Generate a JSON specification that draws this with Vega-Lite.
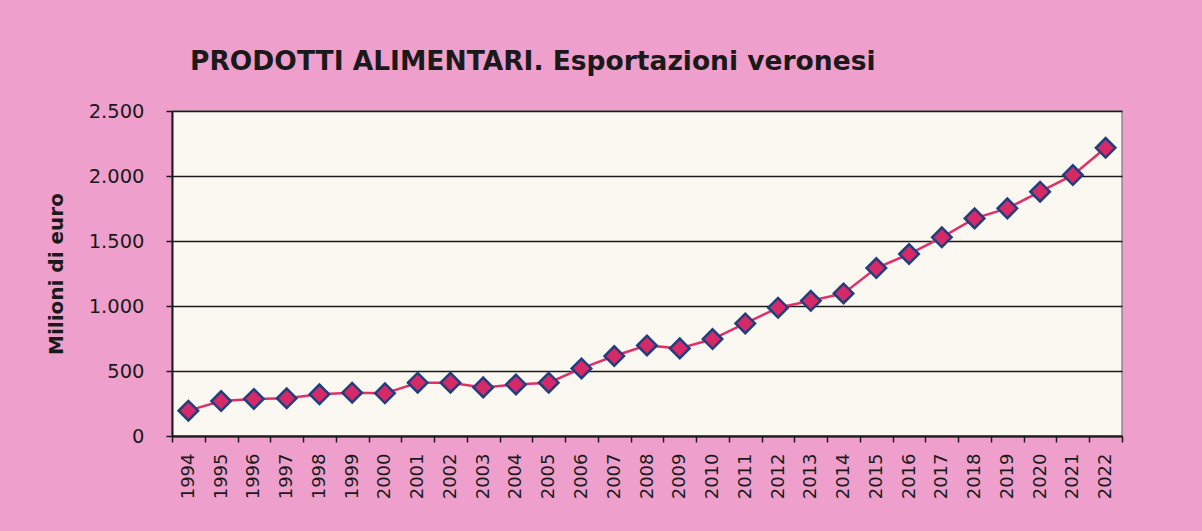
{
  "$schema": "https://vega.github.io/schema/vega-lite/v6.json",
  "width": 950,
  "height": 325,
  "autosize": {"type": "none"},
  "padding": {"left": 172, "top": 111, "right": 80, "bottom": 95},
  "background": "#ee9fcb",
  "config": {
    "locale": {"number": {"decimal": ",", "thousands": ".", "grouping": [3], "currency": ["€", ""]}},
    "view": {"fill": "#fbf8f1", "stroke": "#8c8c8c", "strokeWidth": 1.5},
    "font": "DejaVu Sans"
  },
  "title": {
    "text": "PRODOTTI ALIMENTARI. Esportazioni veronesi",
    "anchor": "start",
    "frame": "group",
    "dx": 18,
    "offset": 26,
    "font": "DejaVu Sans",
    "fontSize": 26.5,
    "fontWeight": "bold",
    "color": "#1a1a1a"
  },
  "data": {
    "values": [
      {"anno": "1994", "valore": 195},
      {"anno": "1995", "valore": 269},
      {"anno": "1996", "valore": 285},
      {"anno": "1997", "valore": 290},
      {"anno": "1998", "valore": 321},
      {"anno": "1999", "valore": 333},
      {"anno": "2000", "valore": 328},
      {"anno": "2001", "valore": 410},
      {"anno": "2002", "valore": 410},
      {"anno": "2003", "valore": 374},
      {"anno": "2004", "valore": 397},
      {"anno": "2005", "valore": 410},
      {"anno": "2006", "valore": 520},
      {"anno": "2007", "valore": 615},
      {"anno": "2008", "valore": 697},
      {"anno": "2009", "valore": 674},
      {"anno": "2010", "valore": 746},
      {"anno": "2011", "valore": 866},
      {"anno": "2012", "valore": 987},
      {"anno": "2013", "valore": 1040},
      {"anno": "2014", "valore": 1097},
      {"anno": "2015", "valore": 1292},
      {"anno": "2016", "valore": 1400},
      {"anno": "2017", "valore": 1528},
      {"anno": "2018", "valore": 1674},
      {"anno": "2019", "valore": 1751},
      {"anno": "2020", "valore": 1879},
      {"anno": "2021", "valore": 2007},
      {"anno": "2022", "valore": 2217}
    ]
  },
  "encoding": {
    "x": {
      "field": "anno",
      "type": "ordinal",
      "scale": {"type": "band", "paddingInner": 0, "paddingOuter": 0},
      "axis": {
        "title": null,
        "labelAngle": -90,
        "labelAlign": "right",
        "labelBaseline": "middle",
        "labelFontSize": 18,
        "labelColor": "#1a1a1a",
        "labelPadding": 11,
        "tickBand": "extent",
        "tickColor": "#1a1a1a",
        "tickSize": 6,
        "tickWidth": 1.5,
        "domainColor": "#1a1a1a",
        "domainWidth": 2,
        "grid": false
      }
    },
    "y": {
      "field": "valore",
      "type": "quantitative",
      "scale": {"domain": [0, 2500], "nice": false},
      "axis": {
        "title": "Milioni di euro",
        "titleFontSize": 20,
        "titleFontWeight": "bold",
        "titleColor": "#1a1a1a",
        "titlePadding": 22,
        "values": [0, 500, 1000, 1500, 2000, 2500],
        "format": ",d",
        "labelFontSize": 19.5,
        "labelColor": "#1a1a1a",
        "labelPadding": 22,
        "tickColor": "#1a1a1a",
        "tickSize": 6,
        "tickWidth": 1.5,
        "domainColor": "#1a1a1a",
        "domainWidth": 2,
        "grid": true,
        "gridColor": "#1a1a1a",
        "gridWidth": 1.5
      }
    }
  },
  "layer": [
    {"mark": {"type": "line", "color": "#e0306a", "strokeWidth": 2.5}},
    {"mark": {"type": "point", "shape": "diamond", "filled": true, "size": 380, "fill": "#d62a68", "stroke": "#1f3f7f", "strokeWidth": 2.5, "opacity": 1}}
  ]
}
